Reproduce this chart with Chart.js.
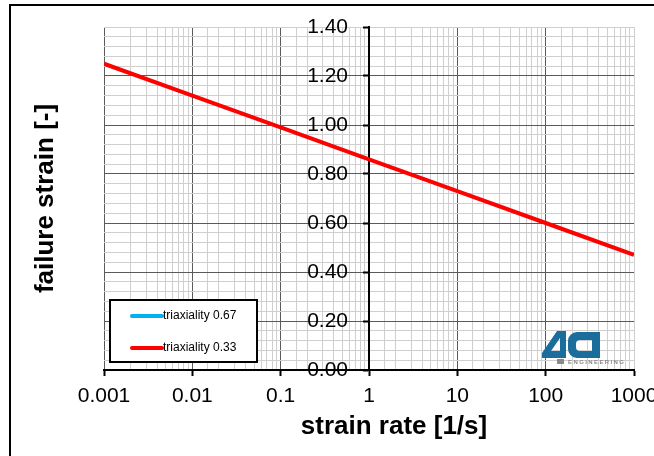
<!DOCTYPE html>
<html>
<head>
<meta charset="utf-8">
<script src="https://cdn.jsdelivr.net/npm/chart.js@4.4.0/dist/chart.umd.min.js"></script>
<style>
  html, body { margin: 0; padding: 0; background: #fff; }
  canvas { display: block; }
</style>
</head>
<body>
<canvas id="myChart" width="654" height="456"></canvas>
<script>
// strain rate [1/s], one point per decade
const strainRates = [0.001, 0.01, 0.1, 1, 10, 100, 1000];
const strainT033 = [1.25, 1.12, 0.99, 0.86, 0.73, 0.60, 0.47];
const strainT067 = [];
const seriesNames = ["triaxiality 0.67", "triaxiality 0.33"];
const seriesColors = ["#00b0f0", "#ff0000"];
const xTickLabels = ["0.001", "0.01", "0.1", "1", "10", "100", "1000"];
const yTickLabels = ["0.00", "0.20", "0.40", "0.60", "0.80", "1.00", "1.20", "1.40"];

const FONT = "'Liberation Sans', Arial, sans-serif";
const MAJOR = "#5a5a5a";
const MINOR = "#cfcfcf";

function isDecade(v) {
  const e = Math.log10(v);
  return Math.abs(e - Math.round(e)) < 1e-6;
}
function isFifth(v) {
  return Math.abs(v / 0.2 - Math.round(v / 0.2)) < 1e-6;
}

// white page + the two black frame lines
const frame = {
  id: 'frame',
  beforeDraw(chart) {
    const ctx = chart.ctx;
    ctx.save();
    ctx.fillStyle = '#fff';
    ctx.fillRect(0, 0, chart.width, chart.height);
    ctx.strokeStyle = '#000';
    ctx.lineWidth = 2;
    ctx.beginPath();
    ctx.moveTo(10, chart.height);
    ctx.lineTo(10, 5);
    ctx.lineTo(chart.width, 5);
    ctx.stroke();
    ctx.restore();
  }
};

// value axis crosses at strain rate = 1, x title sits a bit right of centre
const placeAxes = {
  id: 'placeAxes',
  afterLayout(chart) {
    const px = chart.scales.x.getPixelForValue(1);
    const y2 = chart.scales.y2;
    y2.right = px;
    y2.left = px - 80;
    y2.width = 80;
    chart.scales.xTitle.left += 50;
  }
};

const legendBox = {
  id: 'legendBox',
  afterDraw(chart) {
    const { ctx, chartArea } = chart;
    const x = chartArea.left + 6, y = chartArea.bottom - 70, w = 147, h = 62;
    ctx.save();
    ctx.fillStyle = '#fff';
    ctx.fillRect(x, y, w, h);
    ctx.strokeStyle = '#000';
    ctx.lineWidth = 2;
    ctx.strokeRect(x, y, w, h);
    chart.data.datasets.forEach((ds, i) => {
      const ly = y + 16 + i * 32;
      ctx.strokeStyle = ds.borderColor;
      ctx.lineWidth = 4;
      ctx.lineCap = 'round';
      ctx.beginPath();
      ctx.moveTo(x + 22, ly);
      ctx.lineTo(x + 52, ly);
      ctx.stroke();
      ctx.fillStyle = '#000';
      ctx.font = '12px ' + FONT;
      ctx.textBaseline = 'middle';
      ctx.fillText(ds.label, x + 53, ly);
    });
    ctx.restore();
  }
};

// company logo in the lower right corner of the plot
const logo = {
  id: 'logo',
  afterDatasetsDraw(chart) {
    const { ctx, chartArea } = chart;
    const ox = chartArea.right - 92, oy = chartArea.bottom - 39;
    ctx.save();
    ctx.translate(ox, oy);
    ctx.fillStyle = '#1b6d9c';
    // "4"
    ctx.beginPath();
    ctx.moveTo(15, 0); ctx.lineTo(24, 0); ctx.lineTo(24, 27); ctx.lineTo(0, 27); ctx.lineTo(0, 22);
    ctx.closePath();
    ctx.moveTo(18, 7); ctx.lineTo(18, 20); ctx.lineTo(9, 20);
    ctx.closePath();
    ctx.fill('evenodd');
    // "a"
    ctx.beginPath();
    ctx.roundRect(26, 1, 32, 26, [9, 0, 0, 9]);
    ctx.roundRect(34, 9, 16, 11, [4, 0, 0, 4]);
    ctx.fill('evenodd');
    // ENGINEERING strap line
    ctx.fillStyle = '#8a8a8a';
    ctx.fillRect(15, 28, 7, 5);
    ctx.font = 'bold 6px ' + FONT;
    ctx.letterSpacing = '1.4px';
    ctx.textBaseline = 'top';
    ctx.fillText('ENGINEERING', 26, 28);
    ctx.restore();
  }
};

new Chart("myChart", {
  type: "line",
  data: {
    datasets: [
      {
        label: seriesNames[0],
        data: strainT067,
        borderColor: seriesColors[0],
        borderWidth: 4,
        pointRadius: 0
      },
      {
        label: seriesNames[1],
        data: strainRates.map((r, i) => ({ x: r, y: strainT033[i] })),
        borderColor: seriesColors[1],
        borderWidth: 4,
        pointRadius: 0
      }
    ]
  },
  options: {
    responsive: false,
    animation: false,
    layout: { padding: { top: 27, right: 20, left: 0, bottom: 0 } },
    plugins: {
      legend: { display: false },
      tooltip: { enabled: false }
    },
    scales: {
      x: {
        type: 'logarithmic',
        position: 'bottom',
        min: 0.001,
        max: 1000,
        grid: {
          color: (c) => (c.tick && isDecade(c.tick.value) && c.tick.value < 999) ? MAJOR : MINOR,
          lineWidth: 1,
          tickLength: 6,
          tickWidth: 2,
          tickColor: (c) => (c.tick && isDecade(c.tick.value)) ? '#000' : 'rgba(0,0,0,0)'
        },
        border: { display: true, color: '#000', width: 2 },
        ticks: {
          autoSkip: false,
          maxRotation: 0,
          padding: 8,
          color: '#000',
          font: { family: FONT, size: 21 },
          callback: (v) => isDecade(v) ? xTickLabels[Math.round(Math.log10(v)) + 3] : ''
        },
        afterFit: (s) => { s.height = 42; s.paddingLeft = 0; s.paddingRight = 0; }
      },
      xTitle: {
        type: 'linear',
        position: 'bottom',
        ticks: { display: false },
        grid: { display: false },
        border: { display: false },
        title: {
          display: true,
          text: 'strain rate [1/s]',
          color: '#000',
          font: { family: FONT, size: 26, weight: 'bold' },
          padding: { top: 0, bottom: 14 }
        },
        afterFit: (s) => { s.height = 44; }
      },
      y: {
        position: 'left',
        min: 0,
        max: 1.4,
        ticks: { display: false, stepSize: 0.04 },
        grid: {
          drawTicks: false,
          color: (c) => (c.tick && isFifth(c.tick.value) && c.tick.value < 1.39) ? MAJOR : MINOR,
          lineWidth: 1
        },
        border: { display: false },
        title: {
          display: true,
          text: 'failure strain [-]',
          color: '#000',
          font: { family: FONT, size: 26, weight: 'bold' },
          padding: { top: 30, bottom: 0 }
        },
        afterFit: (s) => { s.width = 104; }
      },
      y2: {
        position: 'left',
        min: 0,
        max: 1.4,
        ticks: {
          stepSize: 0.04,
          autoSkip: false,
          padding: 15,
          color: '#000',
          font: { family: FONT, size: 21 },
          callback: (v) => isFifth(v) ? yTickLabels[Math.round(v / 0.2)] : ''
        },
        grid: {
          drawOnChartArea: false,
          tickLength: 6,
          tickWidth: 2,
          tickColor: (c) => (c.tick && isFifth(c.tick.value)) ? '#000' : 'rgba(0,0,0,0)'
        },
        border: { display: true, color: '#000', width: 2 },
        afterFit: (s) => { s.width = 0; s.paddingTop = 0; s.paddingBottom = 0; }
      }
    }
  },
  plugins: [frame, placeAxes, legendBox, logo]
});
</script>
</body>
</html>
